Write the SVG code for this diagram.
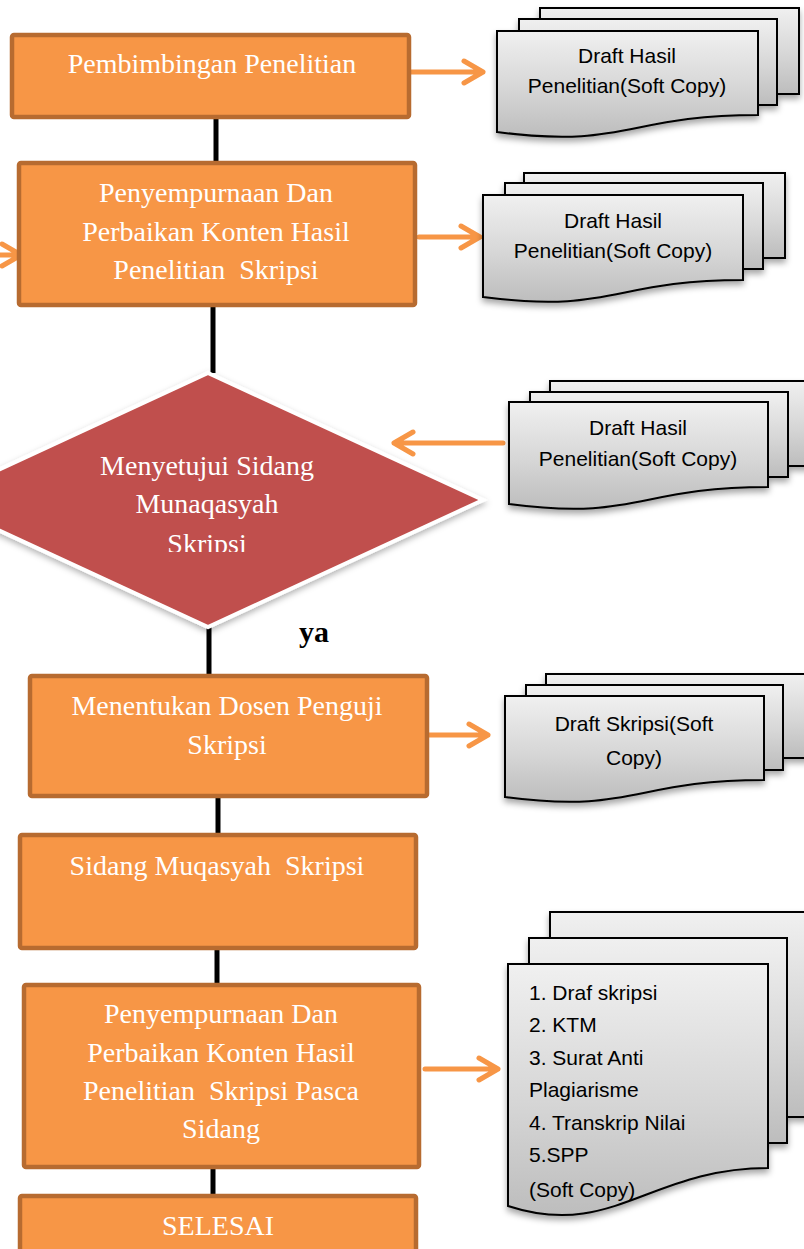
<svg xmlns="http://www.w3.org/2000/svg" width="804" height="1249" viewBox="0 0 804 1249">
  <style>
    .box { fill: #F79646; stroke: #B76B30; stroke-width: 4.5; }
    .box-text { font-family: "Liberation Serif", "Times New Roman", serif; font-size: 28px; fill: #FFFFFF; text-anchor: middle; white-space: pre; }
    .doc-layer { fill: url(#docFill); stroke: #000000; stroke-width: 2; }
    .doc-text { font-family: "Liberation Sans", Arial, sans-serif; font-size: 21px; fill: #000000; }
    .mid { text-anchor: middle; }
    .flow { stroke: #000000; stroke-width: 5; fill: none; }
    .arrow { stroke: #F79646; stroke-width: 5; fill: none; stroke-linecap: round; stroke-linejoin: round; }
  </style>
  <defs>
    <linearGradient id="docFill" x1="0" y1="0" x2="0" y2="1">
      <stop offset="0" stop-color="#F0F0F0"/>
      <stop offset="0.55" stop-color="#D6D6D6"/>
      <stop offset="1" stop-color="#BDBDBD"/>
    </linearGradient>
    <filter id="docShadow" x="-10%" y="-10%" width="130%" height="140%">
      <feDropShadow dx="0" dy="4" stdDeviation="3" flood-color="#000000" flood-opacity="0.35"/>
    </filter>
    <filter id="diamondShadow" x="-10%" y="-10%" width="120%" height="125%">
      <feDropShadow dx="0" dy="3" stdDeviation="3" flood-color="#000000" flood-opacity="0.3"/>
    </filter>
    <clipPath id="diamondTextClip">
      <rect x="0" y="420" width="480" height="132"/>
    </clipPath>
    <clipPath id="listClip">
      <rect x="500" y="960" width="300" height="242"/>
    </clipPath>
  </defs>

  <rect width="804" height="1249" fill="#FFFFFF"/>

  <!-- connectors -->
  <g id="connectors">
    <line class="flow" x1="216" y1="117" x2="216" y2="163"/>
    <line class="flow" x1="213" y1="305" x2="213" y2="373"/>
    <line class="flow" x1="209" y1="627" x2="209" y2="680"/>
    <line class="flow" x1="218" y1="785" x2="218" y2="835"/>
    <line class="flow" x1="217" y1="938" x2="217" y2="985"/>
    <line class="flow" x1="213" y1="1166" x2="213" y2="1196"/>

    <!-- orange data arrows -->
    <path class="arrow" d="M410,72 H483 M464,61 L483,72 L464,83"/>
    <path class="arrow" d="M-5,255 H21 M2,244 L21,255 L2,266"/>
    <path class="arrow" d="M419,237 H480 M461,226 L480,237 L461,248"/>
    <path class="arrow" d="M503,443 H394 M413,432 L394,443 L413,454"/>
    <path class="arrow" d="M428,735 H488 M469,724 L488,735 L469,746"/>
    <path class="arrow" d="M425,1069 H498 M479,1058 L498,1069 L479,1080"/>
  </g>

  <!-- process steps -->
  <g id="pembimbingan">
    <rect class="box" x="12" y="35" width="397" height="82" rx="2"/>
    <text class="box-text" x="212" y="73">Pembimbingan Penelitian</text>
  </g>

  <g id="penyempurnaan">
    <rect class="box" x="19" y="163" width="396" height="142" rx="2"/>
    <text class="box-text" x="216" y="202">Penyempurnaan Dan</text>
    <text class="box-text" x="216" y="241">Perbaikan Konten Hasil</text>
    <text class="box-text" x="216" y="279" xml:space="preserve">Penelitian  Skripsi</text>
  </g>

  <g id="menyetujui">
    <polygon points="208,373 483,500 208,627 -67,500" fill="#C0504D" stroke="#FFFFFF" stroke-width="4" filter="url(#diamondShadow)"/>
    <g clip-path="url(#diamondTextClip)">
      <text class="box-text" x="207" y="475">Menyetujui Sidang</text>
      <text class="box-text" x="207" y="513">Munaqasyah</text>
      <text class="box-text" x="207" y="553">Skripsi</text>
    </g>
    <text x="314" y="642" font-family="Liberation Serif, 'Times New Roman', serif" font-size="30" font-weight="bold" fill="#000000" text-anchor="middle">ya</text>
  </g>

  <g id="menentukan">
    <rect class="box" x="30" y="676" width="397" height="120" rx="2"/>
    <text class="box-text" x="227" y="715">Menentukan Dosen Penguji</text>
    <text class="box-text" x="227" y="754">Skripsi</text>
  </g>

  <g id="sidang">
    <rect class="box" x="20" y="835" width="396" height="113" rx="2"/>
    <text class="box-text" x="217" y="875" xml:space="preserve">Sidang Muqasyah  Skripsi</text>
  </g>

  <g id="penyempurnaan-pasca">
    <rect class="box" x="24" y="985" width="395" height="182" rx="2"/>
    <text class="box-text" x="221" y="1023">Penyempurnaan Dan</text>
    <text class="box-text" x="221" y="1062">Perbaikan Konten Hasil</text>
    <text class="box-text" x="221" y="1100" xml:space="preserve">Penelitian  Skripsi Pasca</text>
    <text class="box-text" x="221" y="1138">Sidang</text>
  </g>

  <g id="selesai">
    <rect class="box" x="20" y="1196" width="396" height="70" rx="2"/>
    <text class="box-text" x="218" y="1235">SELESAI</text>
  </g>

  <!-- documents -->
  <g id="doc-draft-1">
    <g filter="url(#docShadow)">
      <rect class="doc-layer" x="540" y="8" width="259" height="86"/>
      <rect class="doc-layer" x="519" y="19" width="258" height="86"/>
      <path class="doc-layer" d="M497,31 H758 V115 C627,115 627,149 497,132 Z"/>
    </g>
    <text class="doc-text mid" x="627" y="63">Draft Hasil</text>
    <text class="doc-text mid" x="627" y="93">Penelitian(Soft Copy)</text>
  </g>

  <g id="doc-draft-2">
    <g filter="url(#docShadow)">
      <rect class="doc-layer" x="524" y="173" width="261" height="85"/>
      <rect class="doc-layer" x="505" y="183" width="258" height="86"/>
      <path class="doc-layer" d="M483,195 H743 V280 C613,280 613,314 483,297 Z"/>
    </g>
    <text class="doc-text mid" x="613" y="228">Draft Hasil</text>
    <text class="doc-text mid" x="613" y="258">Penelitian(Soft Copy)</text>
  </g>

  <g id="doc-draft-3">
    <g filter="url(#docShadow)">
      <rect class="doc-layer" x="550" y="381" width="262" height="85"/>
      <rect class="doc-layer" x="530" y="392" width="258" height="85"/>
      <path class="doc-layer" d="M509,402 H768 V487 C638,487 638,521 509,504 Z"/>
    </g>
    <text class="doc-text mid" x="638" y="435">Draft Hasil</text>
    <text class="doc-text mid" x="638" y="466">Penelitian(Soft Copy)</text>
  </g>

  <g id="doc-draft-skripsi">
    <g filter="url(#docShadow)">
      <rect class="doc-layer" x="546" y="674" width="266" height="84"/>
      <rect class="doc-layer" x="526" y="685" width="257" height="85"/>
      <path class="doc-layer" d="M505,696 H764 V780 C634,780 634,814 505,797 Z"/>
    </g>
    <text class="doc-text mid" x="634" y="731">Draft Skripsi(Soft</text>
    <text class="doc-text mid" x="634" y="765">Copy)</text>
  </g>

  <g id="doc-berkas">
    <g filter="url(#docShadow)">
      <rect class="doc-layer" x="550" y="912" width="262" height="205"/>
      <rect class="doc-layer" x="529" y="938" width="258" height="205"/>
      <path class="doc-layer" d="M508,964 H768 V1168 C650,1168 612,1240 508,1206 Z"/>
    </g>
    <g clip-path="url(#listClip)">
      <text class="doc-text" x="529" y="1000">1. Draf skripsi</text>
      <text class="doc-text" x="529" y="1032">2. KTM</text>
      <text class="doc-text" x="529" y="1065">3. Surat Anti</text>
      <text class="doc-text" x="529" y="1097">Plagiarisme</text>
      <text class="doc-text" x="529" y="1130">4. Transkrip Nilai</text>
      <text class="doc-text" x="529" y="1162">5.SPP</text>
      <text class="doc-text" x="529" y="1197">(Soft Copy)</text>
    </g>
  </g>
</svg>
